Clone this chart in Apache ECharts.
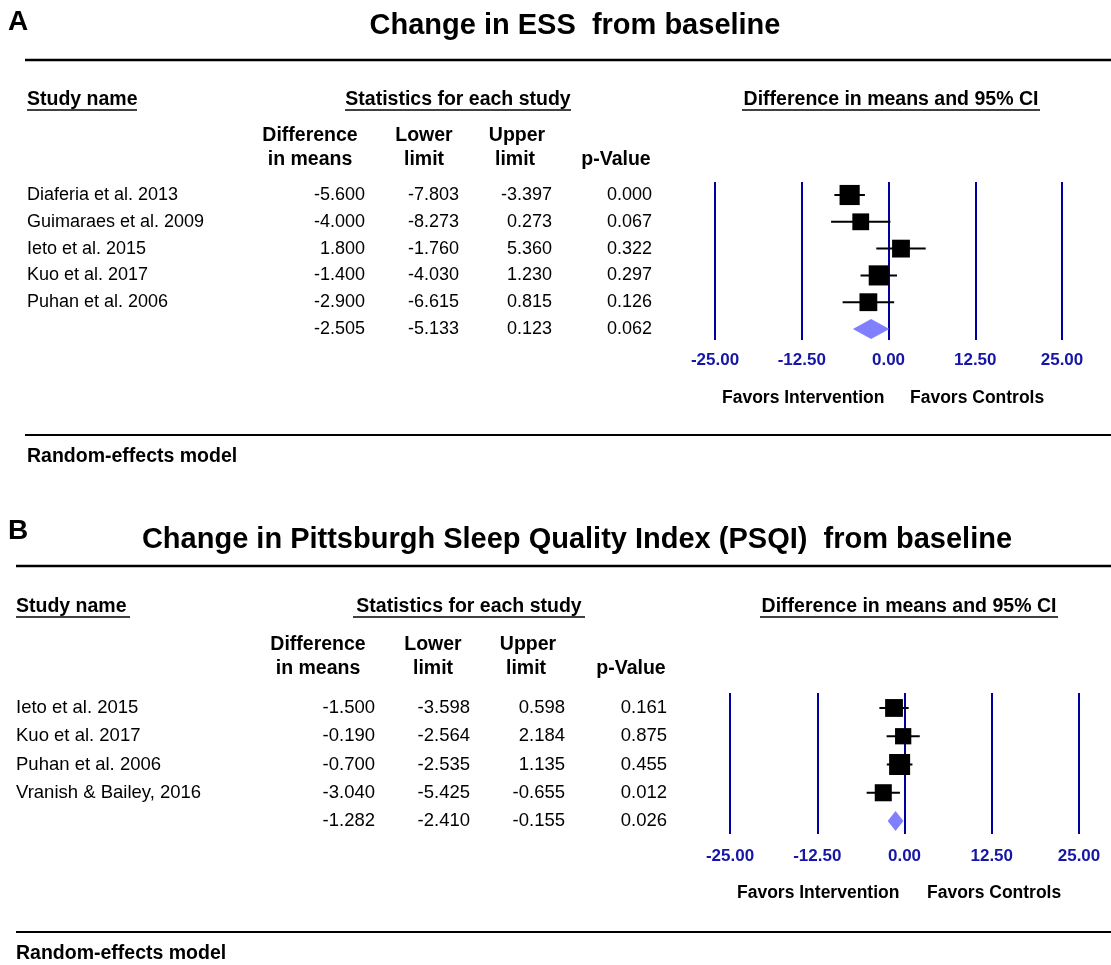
<!DOCTYPE html>
<html>
<head>
<meta charset="utf-8">
<script src="https://cdn.jsdelivr.net/npm/echarts@6/dist/echarts.min.js"></script>
<style>
html,body{margin:0;padding:0;background:#fff;}
#chart{width:1111px;height:965px;}
</style>
</head>
<body>
<div id="chart"></div>
<script>
// ---------- Data ----------
const studiesA = ['Diaferia et al. 2013', 'Guimaraes et al. 2009', 'Ieto et al. 2015', 'Kuo et al. 2017', 'Puhan et al. 2006', ''];
const diffA  = [-5.600, -4.000, 1.800, -1.400, -2.900, -2.505];
const lowerA = [-7.803, -8.273, -1.760, -4.030, -6.615, -5.133];
const upperA = [-3.397, 0.273, 5.360, 1.230, 0.815, 0.123];
const pA     = [0.000, 0.067, 0.322, 0.297, 0.126, 0.062];
const weightA = [23, 16, 18, 23, 18];

const studiesB = ['Ieto et al. 2015', 'Kuo et al. 2017', 'Puhan et al. 2006', 'Vranish & Bailey, 2016', ''];
const diffB  = [-1.500, -0.190, -0.700, -3.040, -1.282];
const lowerB = [-3.598, -2.564, -2.535, -5.425, -2.410];
const upperB = [0.598, 2.184, 1.135, -0.655, -0.155];
const pB     = [0.161, 0.875, 0.455, 0.012, 0.026];
const weightB = [18, 15, 25, 16.5];

const xTicks = [-25, -12.5, 0, 12.5, 25];

// ---------- Styling / layout ----------
const FONT = 'Liberation Sans, Arial, sans-serif';
const BLUE = '#0000a0';
const TICKBLUE = '#1616a6';
const DIAMOND = '#8080ff';
const HS = 19.5; // header font size

const panels = [
  {studies: studiesA, diff: diffA, lower: lowerA, upper: upperA, p: pA, w: weightA,
   nameX: 27, colX: [365, 459, 552, 652], fs: 18},
  {studies: studiesB, diff: diffB, lower: lowerB, upper: upperB, p: pB, w: weightB,
   nameX: 16, colX: [375, 470, 565, 667], fs: 18.5}
];

const chart = echarts.init(document.getElementById('chart'), null, {renderer: 'canvas'});

function xAxisFor(gridIndex, margin) {
  return {
    type: 'value', gridIndex: gridIndex, min: xTicks[0], max: xTicks[xTicks.length - 1],
    interval: xTicks[1] - xTicks[0],
    axisLine: {show: false}, axisTick: {show: false},
    splitLine: {show: true, lineStyle: {color: BLUE, width: 2}},
    axisLabel: {
      margin: margin, color: TICKBLUE, fontWeight: 'bold', fontSize: 17, fontFamily: FONT,
      formatter: v => v.toFixed(2)
    }
  };
}
function yAxisFor(gridIndex, min, max) {
  return {
    type: 'value', gridIndex: gridIndex, inverse: true, min: min, max: max,
    show: false, splitLine: {show: false}
  };
}

const series = [];
panels.forEach((P, gi) => {
  const nStudies = P.w.length;
  const sumIdx = P.diff.length - 1;
  // CI lines
  series.push({
    type: 'custom', xAxisIndex: gi, yAxisIndex: gi, silent: true, z: 3,
    data: P.diff.slice(0, nStudies).map((d, i) => [P.lower[i], P.upper[i], i]),
    renderItem: (params, api) => {
      const a = api.coord([api.value(0), api.value(2)]);
      const b = api.coord([api.value(1), api.value(2)]);
      return {type: 'line', shape: {x1: a[0], y1: a[1], x2: b[0], y2: b[1]},
              style: {stroke: '#000', lineWidth: 2}};
    }
  });
  // squares
  series.push({
    type: 'scatter', xAxisIndex: gi, yAxisIndex: gi, silent: true, z: 4,
    symbol: 'rect',
    symbolSize: v => Math.sqrt(v[2]) * 4.2,
    itemStyle: {color: '#000', opacity: 1},
    data: P.diff.slice(0, nStudies).map((d, i) => [d, i, P.w[i]])
  });
  // summary diamond
  series.push({
    type: 'custom', xAxisIndex: gi, yAxisIndex: gi, silent: true, z: 4,
    data: [[P.lower[sumIdx], P.diff[sumIdx], P.upper[sumIdx], sumIdx]],
    renderItem: (params, api) => {
      const y = api.value(3);
      const l = api.coord([api.value(0), y]);
      const c = api.coord([api.value(1), y]);
      const r = api.coord([api.value(2), y]);
      const h = 10;
      return {type: 'polygon',
              shape: {points: [[l[0], l[1]], [c[0], c[1] - h], [r[0], r[1]], [c[0], c[1] + h]]},
              style: {fill: DIAMOND}};
    }
  });
  // table rows (text aligned to the row scale)
  series.push({
    type: 'custom', xAxisIndex: gi, yAxisIndex: gi, silent: true, clip: false, z: 5,
    data: P.diff.map((d, i) => [0, i]),
    renderItem: (params, api) => {
      const i = params.dataIndex;
      const y = api.coord([0, api.value(1)])[1];
      const base = {fontFamily: FONT, fontSize: P.fs, fill: '#000', verticalAlign: 'middle'};
      const vals = [P.diff[i], P.lower[i], P.upper[i], P.p[i]];
      const children = [{type: 'text', x: P.nameX, y: y,
                         style: Object.assign({text: P.studies[i], align: 'left'}, base)}];
      vals.forEach((v, k) => {
        children.push({type: 'text', x: P.colX[k], y: y,
                       style: Object.assign({text: v.toFixed(3), align: 'right'}, base)});
      });
      return {type: 'group', children: children};
    }
  });
});

// ---------- Static text & rules ----------
const g = [];
function txt(text, x, y, size, opts) {
  g.push(Object.assign({type: 'text', x: x, y: y,
    style: Object.assign({text: text, fontFamily: FONT, fontSize: size, fontWeight: 'bold',
      fill: '#000', align: 'left', verticalAlign: 'middle'}, opts || {})}));
}
function rule(x1, x2, y, w) {
  g.push({type: 'line', shape: {x1: x1, y1: y, x2: x2, y2: y}, style: {stroke: '#000', lineWidth: w}});
}

// Panel A
txt('A', 8, 22, 28);
txt('Change in ESS  from baseline', 575, 26, 29, {align: 'center'});
rule(25, 1111, 60, 2.5);
txt('Study name', 27, 100, HS); rule(27, 137, 110, 1.5);
txt('Statistics for each study', 458, 100, HS, {align: 'center'}); rule(345, 571, 110, 1.5);
txt('Difference in means and 95% CI', 891, 100, HS, {align: 'center'}); rule(742, 1040, 110, 1.5);
txt('Difference', 310, 136, HS, {align: 'center'});
txt('in means', 310, 160, HS, {align: 'center'});
txt('Lower', 424, 136, HS, {align: 'center'});
txt('limit', 424, 160, HS, {align: 'center'});
txt('Upper', 517, 136, HS, {align: 'center'});
txt('limit', 515, 160, HS, {align: 'center'});
txt('p-Value', 616, 160, HS, {align: 'center'});
txt('Favors Intervention', 722, 398, 17.5);
txt('Favors Controls', 910, 398, 17.5);
rule(25, 1111, 435, 2);
txt('Random-effects model', 27, 457, HS);

// Panel B
txt('B', 8, 531, 28);
txt('Change in Pittsburgh Sleep Quality Index (PSQI)  from baseline', 577, 540, 29, {align: 'center'});
rule(16, 1111, 566, 2.5);
txt('Study name', 16, 607, HS); rule(16, 130, 617, 1.5);
txt('Statistics for each study', 469, 607, HS, {align: 'center'}); rule(353, 585, 617, 1.5);
txt('Difference in means and 95% CI', 909, 607, HS, {align: 'center'}); rule(760, 1058, 617, 1.5);
txt('Difference', 318, 645, HS, {align: 'center'});
txt('in means', 318, 669, HS, {align: 'center'});
txt('Lower', 433, 645, HS, {align: 'center'});
txt('limit', 433, 669, HS, {align: 'center'});
txt('Upper', 528, 645, HS, {align: 'center'});
txt('limit', 526, 669, HS, {align: 'center'});
txt('p-Value', 631, 669, HS, {align: 'center'});
txt('Favors Intervention', 737, 893, 17.5);
txt('Favors Controls', 927, 893, 17.5);
rule(16, 1111, 932, 2);
txt('Random-effects model', 16, 954, HS);

chart.setOption({
  animation: false,
  backgroundColor: '#fff',
  grid: [
    {left: 715, top: 182, width: 347, height: 158},
    {left: 730, top: 693, width: 349, height: 141}
  ],
  xAxis: [xAxisFor(0, 12), xAxisFor(1, 14)],
  yAxis: [yAxisFor(0, -0.485, 5.41), yAxisFor(1, -0.53, 4.46)],
  series: series,
  graphic: g
});
</script>
</body>
</html>
